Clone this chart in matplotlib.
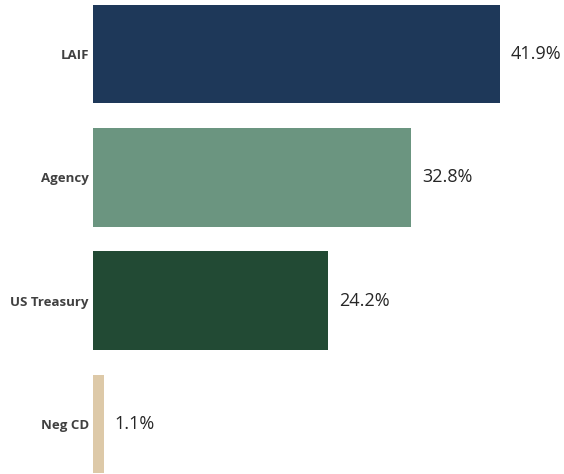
import matplotlib
matplotlib.use("Agg")
import matplotlib.pyplot as plt

categories = ["LAIF", "Agency", "US Treasury", "Neg CD"]
values = [41.9, 32.8, 24.2, 1.1]
colors = ["#1E3859", "#6B9580", "#224A34", "#DDC9A8"]

plt.rcParams['font.family'] = ['Open Sans', 'DejaVu Sans']

fig = plt.figure(figsize=(5.64, 4.74), dpi=100)
left_px = 93
ax = fig.add_axes([left_px / 564, 0, (564 - left_px) / 564, 1])
ypos = list(range(len(categories)))
ax.barh(ypos, values, height=0.8, color=colors)
ax.set_ylim(3.405, -0.438)
# 9.71 px per unit
ax.set_xlim(0, (564 - left_px) / 9.71)
for y, v in zip(ypos, values):
    ax.text(v + 1.1, y, f"{v}%", va="center", ha="left", fontsize=13, color="#262626")
ax.set_yticks(ypos)
ax.set_yticklabels(categories, fontsize=9.5, fontweight="bold", color="#404040")
ax.tick_params(axis="y", length=0, pad=3)
ax.set_xticks([])
for s in ax.spines.values():
    s.set_visible(False)

fig.savefig("out.png", dpi=100)
